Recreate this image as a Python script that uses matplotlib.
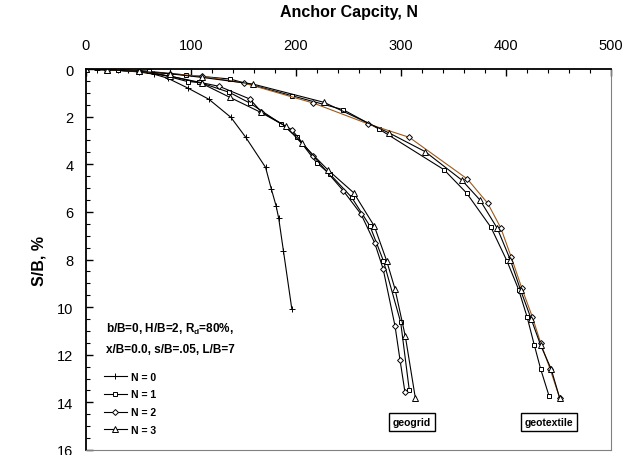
import matplotlib
matplotlib.use('Agg')
import matplotlib.pyplot as plt
from matplotlib.ticker import MultipleLocator

plt.rcParams['font.family'] = ['Liberation Sans', 'DejaVu Sans']
plt.rcParams['mathtext.fontset'] = 'custom'
plt.rcParams['mathtext.rm'] = 'Liberation Sans'
plt.rcParams['mathtext.bf'] = 'Liberation Sans:bold'

# unreinforced
n0_x = [0, 10, 30, 50, 65, 78, 97, 117, 138, 152, 171, 176.5, 181, 183.5, 188, 196]
n0_y = [0, 0.03, 0.06, 0.12, 0.22, 0.39, 0.80, 1.27, 2.03, 2.86, 4.13, 5.04, 5.74, 6.26, 7.63, 10.07]

# geogrid
gg1_x = [0, 30, 60, 97, 108, 136.5, 156, 186, 200.6, 219.7, 232, 253, 270.5, 283.2, 299.7, 307.9]
gg1_y = [0, 0.03, 0.1, 0.53, 0.56, 0.98, 1.43, 2.31, 2.84, 3.94, 4.4, 5.39, 6.6, 8.05, 10.64, 13.49]
gg2_x = [0, 20, 50, 80, 127, 156, 167, 196, 216.5, 245, 262, 275, 283, 294.3, 299, 303.8]
gg2_y = [0, 0.03, 0.1, 0.3, 0.73, 1.26, 1.8, 2.55, 3.66, 5.11, 6.1, 7.31, 8.4, 10.79, 12.2, 13.58]
gg3_x = [0, 20, 50, 80, 110, 137, 166.4, 190, 205.4, 230.2, 255, 274.6, 286.3, 294.3, 304.1, 313.6]
gg3_y = [0, 0.03, 0.1, 0.3, 0.6, 1.19, 1.82, 2.4, 3.12, 4.23, 5.2, 6.6, 8.05, 9.24, 11.22, 13.8]

# geotextile
gt1_x = [0, 30, 60, 95, 137, 196, 245, 279, 341, 362.5, 385.7, 401, 412, 420, 427, 433, 441]
gt1_y = [0, 0.03, 0.1, 0.25, 0.42, 1.12, 1.71, 2.52, 4.23, 5.21, 6.65, 8.07, 9.26, 10.4, 11.6, 12.6, 13.73]
gt2_x = [0, 20, 50, 80, 110, 150.5, 216.5, 268.9, 307.9, 363.2, 382.6, 395, 405, 415, 425, 433, 442, 451]
gt2_y = [0, 0.03, 0.1, 0.2, 0.3, 0.59, 1.43, 2.31, 2.87, 4.62, 5.64, 6.67, 7.9, 9.2, 10.4, 11.5, 12.6, 13.8]
gt3_x = [0, 20, 50, 80, 110, 158.7, 226.7, 288.9, 323, 357.8, 375, 391.7, 404, 414, 424, 433, 443, 451]
gt3_y = [0, 0.03, 0.1, 0.2, 0.35, 0.63, 1.4, 2.69, 3.47, 4.66, 5.49, 6.69, 8.0, 9.3, 10.5, 11.6, 12.6, 13.8]

labels = ['N = 0', 'N = 1', 'N = 2', 'N = 3']

fig = plt.figure(figsize=(6.39, 4.56), dpi=100)
ax = fig.add_axes([86 / 639, 1 - 451 / 456, 525 / 639, 381 / 456])

lw = 0.8
common = dict(color='black', lw=lw, markerfacecolor='white', markeredgecolor='black', markeredgewidth=0.7)
ax.plot(n0_x, n0_y, marker='+', ms=4.5, label=labels[0], **common)
ax.plot(gg1_x, gg1_y, marker='s', ms=3.2, label=labels[1], **common)
ax.plot(gg2_x, gg2_y, marker='D', ms=3, label=labels[2], **common)
ax.plot(gg3_x, gg3_y, marker='^', ms=4, label=labels[3], **common)
ax.plot(gt1_x, gt1_y, marker='s', ms=3.2, **common)
ax.plot(gt2_x, gt2_y, marker='D', ms=3, color='#9a5a1e', lw=lw,
        markerfacecolor='white', markeredgecolor='black', markeredgewidth=0.7)
ax.plot(gt3_x, gt3_y, marker='^', ms=4, **common)

ax.set_xlim(0, 500)
ax.set_ylim(16, 0)
ax.xaxis.set_major_locator(MultipleLocator(100))
ax.xaxis.set_minor_locator(MultipleLocator(20))
ax.yaxis.set_major_locator(MultipleLocator(2))
ax.yaxis.set_minor_locator(MultipleLocator(0.5))
ax.xaxis.tick_top()
ax.xaxis.set_label_position('top')
ax.tick_params(which='both', direction='in', labelsize=10.5, top=True, bottom=False, right=False)
ax.tick_params(which='major', length=5, width=1)
ax.tick_params(which='minor', length=3, width=0.8)
ax.tick_params(axis='x', pad=12)
ax.tick_params(axis='y', pad=9)

ax.set_xlabel('Anchor Capcity, N', fontsize=11.5, fontweight='bold', labelpad=16)
ax.set_ylabel('S/B, %', fontsize=11.5, fontweight='bold', labelpad=8)

ax.spines['left'].set_linewidth(1.3)
ax.spines['top'].set_linewidth(1.3)
for s in ['right', 'bottom']:
    ax.spines[s].set_color('#808080')
    ax.spines[s].set_linewidth(0.8)

ax.text(0.038, 0.32, 'b/B=0, H/B=2, R$_\\mathbf{d}$=80%,', transform=ax.transAxes,
        fontsize=8.5, fontweight='bold', va='center')
ax.text(0.038, 0.265, 'x/B=0.0, s/B=.05, L/B=7', transform=ax.transAxes,
        fontsize=8.5, fontweight='bold', va='center')

leg = ax.legend(loc='upper left', bbox_to_anchor=(0.02, 0.225), frameon=False,
                prop={'weight': 'bold', 'size': 7.5}, handlelength=2.2,
                labelspacing=0.75, handletextpad=0.4, borderpad=0.2)

box = dict(boxstyle='square,pad=0.35', fc='white', ec='black', lw=1)
ax.text(310.5, 14.82, 'geogrid', ha='center', va='center', fontsize=7.5,
        fontweight='bold', bbox=box)
ax.text(441, 14.82, 'geotextile', ha='center', va='center', fontsize=7.5,
        fontweight='bold', bbox=box)

fig.savefig('out.png', dpi=100)
